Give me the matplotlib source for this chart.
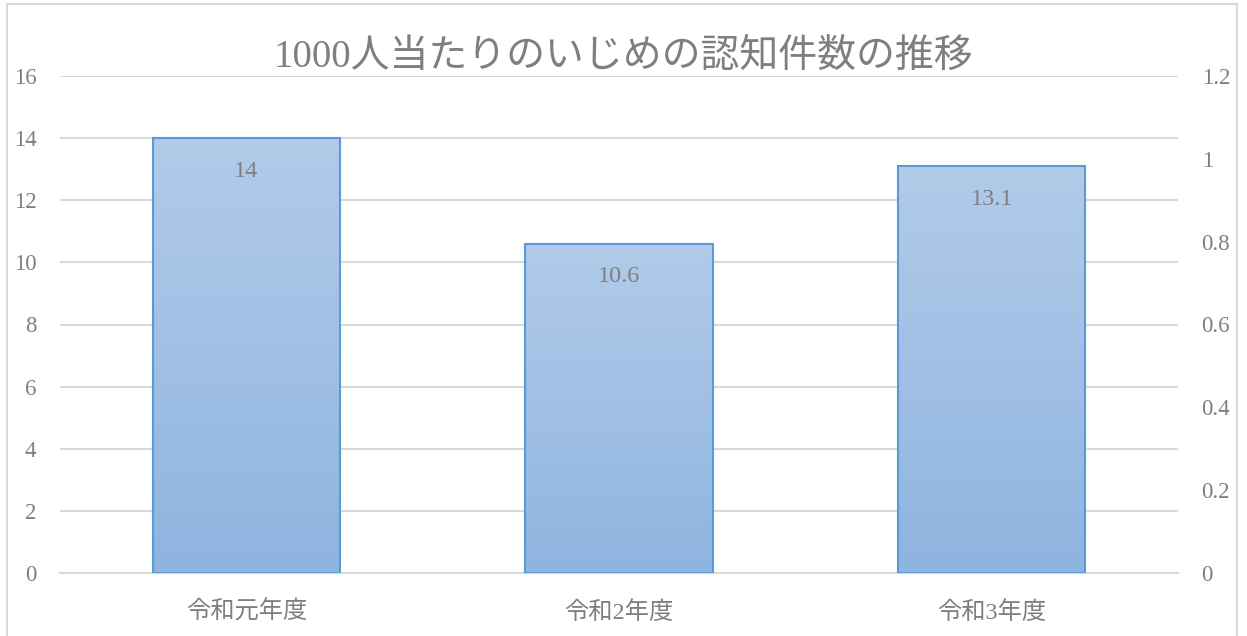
import numpy as np
import matplotlib.pyplot as plt
from matplotlib.patches import Rectangle
from matplotlib.colors import LinearSegmentedColormap

plt.rcParams['font.family'] = ['Liberation Serif', 'Noto Sans CJK JP', 'DejaVu Sans']

categories = ["令和元年度", "令和2年度", "令和3年度"]
values = [14, 10.6, 13.1]
value_labels = ["14", "10.6", "13.1"]
left_ticks = [0, 2, 4, 6, 8, 10, 12, 14, 16]
right_ticks = [0, 0.2, 0.4, 0.6, 0.8, 1.0, 1.2]
right_labels = ["0", "0.2", "0.4", "0.6", "0.8", "1", "1.2"]
title = "1000人当たりのいじめの認知件数の推移"

text_c = "#7f7f7f"
grid_c = "#d9d9d9"

fig = plt.figure(figsize=(12.47, 6.36), dpi=100)
ax = fig.add_axes([60 / 1247, 1 - 573 / 636, (1178 - 60) / 1247, (573 - 76) / 636])

grad = LinearSegmentedColormap.from_list("g", ["#8fb4e0", "#b1cbe9"])
width = 0.502
x = np.arange(len(categories))
for xi, v, lab in zip(x, values, value_labels):
    g = np.linspace(0, 1, 100).reshape(-1, 1)
    ax.imshow(g, cmap=grad, origin="lower", aspect="auto",
              extent=(xi - width / 2, xi + width / 2, 0, v), zorder=2)
    ax.bar(xi, v, width=width, facecolor="none", edgecolor="#5b9bd5", linewidth=1.5, zorder=3)
    ax.annotate(lab, (xi, v), xytext=(0, -33), textcoords="offset pixels",
                ha="center", va="center", fontsize=17.5, color=text_c, zorder=4)

ax.set_xlim(-0.5, len(categories) - 0.5)
ax.set_ylim(0, 16)
ax.set_yticks(left_ticks)
ax.set_yticklabels([str(t) for t in left_ticks])
ax.set_xticks(x)
ax.set_xticklabels(categories)
ax.grid(axis="y", color=grid_c, linewidth=1.5, zorder=0)
ax.set_axisbelow(True)
for s in ["top", "right", "left"]:
    ax.spines[s].set_visible(False)
ax.spines["bottom"].set_color(grid_c)
ax.spines["bottom"].set_linewidth(1.5)
ax.tick_params(axis="y", length=0, pad=17, labelsize=16.5, labelcolor=text_c)
ax.tick_params(axis="x", length=0, pad=20, labelsize=17.5, labelcolor=text_c)

ax2 = ax.twinx()
ax2.set_ylim(0, 1.2)
ax2.set_yticks(right_ticks)
ax2.set_yticklabels(right_labels)
for s in ax2.spines.values():
    s.set_visible(False)
ax2.tick_params(axis="y", which="both", right=True, length=0, labelsize=16.5, labelcolor=text_c)
for t in ax2.yaxis.get_major_ticks():
    t.set_pad(17)

fig.text(623 / 1247, 1 - 57 / 636, title, ha="center", va="center", fontsize=28, color=text_c)

fig.patches.append(Rectangle((7 / 1247, -0.01), (1237 - 7) / 1247, 1 - 4 / 636 + 0.01,
                             transform=fig.transFigure, fill=False, edgecolor=grid_c, linewidth=1.5))

fig.savefig("out.png", dpi=100)
